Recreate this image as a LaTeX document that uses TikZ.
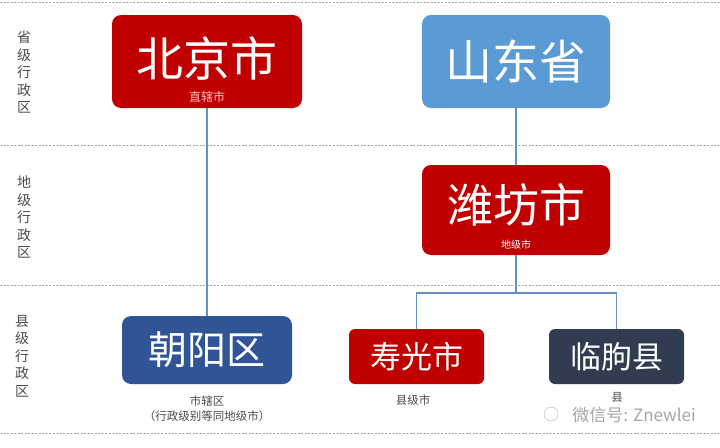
\documentclass[tikz,border=0pt]{standalone}
\usepackage{fontspec}
\setmainfont{Noto Sans CJK SC}
\begin{document}
\begin{tikzpicture}[x=1pt,y=-1pt,
  box/.style={rounded corners=9pt,inner sep=0pt,text=white},
  sep/.style={gray!70,line width=0.6pt,dash pattern=on 2pt off 1.5pt},
  conn/.style={line width=1.6pt,color={rgb,255:red,100;green,145;blue,195}},
  side/.style={text=black!70,font=\fontsize{14}{17.5}\selectfont,align=center},
  note/.style={text=black!70,font=\fontsize{11.5}{15}\selectfont,align=center}]
\definecolor{cred}{RGB}{192,0,0}
\definecolor{cblue}{RGB}{91,155,213}
\definecolor{cdblue}{RGB}{47,85,151}
\definecolor{cdark}{RGB}{50,60,80}
\useasboundingbox (0,0) rectangle (720,447);
\fill[white] (0,0) rectangle (720,447);
\foreach \y in {2,145,285,433} \draw[sep] (0,\y) -- (720,\y);
\node[side] (l1) at (24,72) {省\\级\\行\\政\\区};
\node[side] (l2) at (24,217) {地\\级\\行\\政\\区};
\node[side] (l3) at (22,356) {县\\级\\行\\政\\区};
\node[box,fill=cred,minimum width=190pt,minimum height=93pt] (bj) at (207,61.5) {};
\node[text=white,font=\fontsize{47}{47}\selectfont] at (207,58) {北京市};
\node[text=red!25,font=\fontsize{12}{12}\selectfont] at (207,97) {直辖市};
\node[box,fill=cblue,minimum width=188pt,minimum height=93pt,font=\fontsize{47}{47}\selectfont] (sd) at (516,61.5) {山东省};
\node[box,fill=cred,minimum width=188pt,minimum height=90pt] (wf) at (516,210) {};
\node[text=white,font=\fontsize{46}{46}\selectfont] at (516,205) {潍坊市};
\node[text=white,font=\fontsize{10}{10}\selectfont] at (516,245) {地级市};
\node[box,fill=cdblue,minimum width=170pt,minimum height=68pt,font=\fontsize{39}{39}\selectfont] (cy) at (207,350) {朝阳区};
\node[box,fill=cred,rounded corners=6pt,minimum width=135pt,minimum height=55pt,font=\fontsize{31}{31}\selectfont] (sg) at (416.5,356.5) {寿光市};
\node[box,fill=cdark,rounded corners=6pt,minimum width=135pt,minimum height=55pt,font=\fontsize{31}{31}\selectfont] (lq) at (616.5,356.5) {临朐县};
\node[note] (n1) at (207,409) {市辖区\\（行政级别等同地级市）};
\node[note] (n2) at (413,400) {县级市};
\node[note] (n3) at (617,397) {县};
\node[text=black!35,font=\fontsize{17}{17}\selectfont] (wm) at (634,415) {微信号: Znewlei};
\node[draw=black!30,circle,inner sep=0pt,minimum size=14pt] (ic) at (551,414) {};
\draw[conn] (bj.south) -- (cy.north);
\draw[conn] (sd.south) -- (wf.north);
\coordinate (j) at (516,293);
\draw[conn] (wf.south) -- (j);
\draw[conn] (sg.north) |- (j) -| (lq.north);
\end{tikzpicture}
\end{document}
